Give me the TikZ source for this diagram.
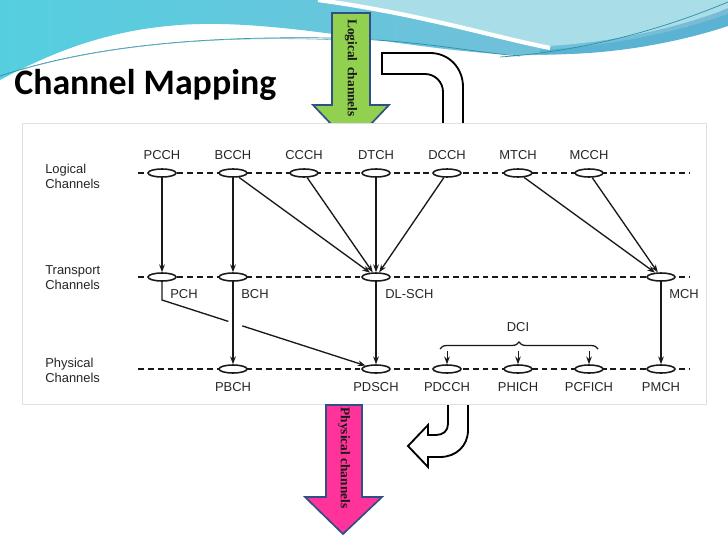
\documentclass[tikz,border=0pt]{standalone}
\usepackage{fontspec}
\setmainfont{Liberation Sans}
\newfontfamily\titlefont{Carlito}
\newfontfamily\arrowfont{Liberation Serif}
\usetikzlibrary{shapes.geometric, positioning, arrows.meta, calc, decorations.pathreplacing}
\definecolor{swblue}{HTML}{7BBAD7}
\definecolor{swcyan}{HTML}{55CFE0}
\definecolor{swlight}{HTML}{A9DEE8}
\definecolor{swdark}{HTML}{5AB3D3}
\definecolor{swline}{HTML}{2C8FA6}
\definecolor{greenfill}{HTML}{92D050}
\definecolor{pinkfill}{HTML}{FF3399}
\definecolor{arrowedge}{HTML}{2F4F86}
\tikzset{
  chan/.style={ellipse, draw=black!90, fill=white, line width=1.1pt, minimum width=0.7cm, minimum height=0.2cm, inner sep=0pt},
  lbl/.style={font=\fontsize{9.2}{10.8}\selectfont, inner sep=0pt, text=black!85},
  rowlbl/.style={lbl, align=left, anchor=west},
  level/.style={dash pattern=on 4.2pt off 2.8pt, line width=0.9pt, black!90},
  arrow/.style={line width=0.95pt,->,>={Stealth[length=5.5pt,width=4pt]}, black!90},
  bigarrow/.style={line width=1.2pt, draw=arrowedge},
  bent/.style={line width=1.3pt, fill=white, draw=black}
}
\begin{document}
\begin{tikzpicture}[x=0.025cm, y=-0.025cm]
        \useasboundingbox [fill=white] (0,0) rectangle (728,546);

        % Hintergrund oben (Welle)
        \shade [left color=swcyan, right color=swblue] (0,0) -- (0,80) .. controls (60,48) and (120,26) .. (200,24) .. controls (300,22) and (420,52) .. (520,55) .. controls (610,56) and (680,40) .. (728,24) -- (728,0) -- cycle;
        \fill [swdark] (540,50) .. controls (620,46) and (690,28) .. (728,14) -- (728,26) .. controls (680,42) and (610,56) .. (540,54) -- cycle;
        \fill [swlight] (325,0) .. controls (420,12) and (490,34) .. (548,46) .. controls (620,42) and (690,24) .. (728,8) -- (728,0) -- cycle;
        \draw [white, line width=3pt] (318,0) .. controls (420,14) and (490,36) .. (550,48);
        \draw [swline, line width=0.5pt] (0,76) .. controls (90,46) and (200,36) .. (330,38) .. controls (420,40) and (470,52) .. (520,56);
        \draw [swline!70, line width=0.4pt] (20,70) .. controls (110,44) and (220,35) .. (340,40);
        \draw [swline, line width=0.5pt] (500,57) .. controls (600,50) and (680,22) .. (728,2);

        % Titel
        \node (title) [anchor=base west, inner sep=0pt, font=\titlefont\bfseries\fontsize{25.5}{30}\selectfont] at (14,94) {Channel Mapping};

        % grosser Pfeil oben und gebogener Pfeil
        \filldraw [bigarrow, fill=greenfill] (332,13) -- (370,13) -- (370,105) -- (389,105) -- (351,145) -- (313,105) -- (332,105) -- cycle;
        \node (logtxt) [rotate=-90, inner sep=0pt, text=black!90, font=\arrowfont\bfseries\fontsize{9.5}{10}\selectfont] at (351,68) {Logical\, channels};
        \draw [bent] (382,53) -- (430,53) .. controls (449,53) and (463,68) .. (463,87) -- (463,140) -- (443,140) -- (443,92) .. controls (443,82) and (435,74) .. (425,74) -- (382,74) -- cycle;

        % Kasten des Diagramms
        \filldraw [fill=white, draw=black!12, line width=0.6pt] (22,123) rectangle (706,404);

        % Ebenen
        \coordinate (lgS) at (138,173);
        \coordinate (lgE) at (690,173);
        \coordinate (trS) at (138,277);
        \coordinate (trE) at (690,277);
        \coordinate (phS) at (138,369);
        \coordinate (phE) at (690,369);
        \draw [level] (lgS) -- (lgE);
        \draw [level] (trS) -- (trE);
        \draw [level] (phS) -- (phE);

        \node (lgL) [rowlbl] at (45,176) {Logical\\Channels};
        \node (trL) [rowlbl] at (45,278) {Transport\\Channels};
        \node (phL) [rowlbl] at (45,370) {Physical\\Channels};

        % Logische Kanaele
        \node (pcch) [chan] at (162,173) {};
        \node (bcch) [chan] at (233,173) {};
        \node (ccch) [chan] at (304,173) {};
        \node (dtch) [chan] at (376,173) {};
        \node (dcch) [chan] at (447,173) {};
        \node (mtch) [chan] at (518,173) {};
        \node (mcch) [chan] at (589,173) {};
        \node (pcchL) [lbl, above=0.22cm of pcch] {PCCH};
        \node (bcchL) [lbl, above=0.22cm of bcch] {BCCH};
        \node (ccchL) [lbl, above=0.22cm of ccch] {CCCH};
        \node (dtchL) [lbl, above=0.22cm of dtch] {DTCH};
        \node (dcchL) [lbl, above=0.22cm of dcch] {DCCH};
        \node (mtchL) [lbl, above=0.22cm of mtch] {MTCH};
        \node (mcchL) [lbl, above=0.22cm of mcch] {MCCH};

        % Transportkanaele
        \node (pch) [chan] at (162,277) {};
        \node (bch) [chan] at (233,277) {};
        \node (dlsch) [chan] at (376,277) {};
        \node (mch) [chan] at (661,277) {};
        \node (pchL) [lbl, anchor=west] at (170,294) {PCH};
        \node (bchL) [lbl, anchor=west] at (241,294) {BCH};
        \node (dlschL) [lbl, anchor=west] at (385,294) {DL-SCH};
        \node (mchL) [lbl, anchor=west] at (669,294) {MCH};

        % Physikalische Kanaele
        \node (pbch) [chan] at (233,369) {};
        \node (pdsch) [chan] at (376,369) {};
        \node (pdcch) [chan] at (447,369) {};
        \node (phich) [chan] at (518,369) {};
        \node (pcfich) [chan] at (589,369) {};
        \node (pmch) [chan] at (661,369) {};
        \node (pbchL) [lbl, below=0.22cm of pbch] {PBCH};
        \node (pdschL) [lbl, below=0.22cm of pdsch] {PDSCH};
        \node (pdcchL) [lbl, below=0.22cm of pdcch] {PDCCH};
        \node (phichL) [lbl, below=0.22cm of phich] {PHICH};
        \node (pcfichL) [lbl, below=0.22cm of pcfich] {PCFICH};
        \node (pmchL) [lbl, below=0.22cm of pmch] {PMCH};

        % Logisch -> Transport
        \draw [arrow] (pcch) -- (pch);
        \draw [arrow] (bcch) -- (bch);
        \draw [arrow] (bcch) -- (dlsch);
        \draw [arrow] (ccch) -- (dlsch);
        \draw [arrow] (dtch) -- (dlsch);
        \draw [arrow] (dcch) -- (dlsch);
        \draw [arrow] (mtch) -- (mch);
        \draw [arrow] (mcch) -- (mch);

        % Transport -> Physikalisch (PCH mit Luecke an BCH)
        \coordinate (pchK) at (162,300);
        \coordinate (gapA) at ($(pchK)!0.31!(pdsch)$);
        \coordinate (gapB) at ($(pchK)!0.375!(pdsch)$);
        \draw [line width=0.95pt, black!90] (pch) -- (pchK) -- (gapA);
        \draw [arrow] (gapB) -- (pdsch);
        \draw [arrow] (bch) -- (pbch);
        \draw [arrow] (dlsch) -- (pdsch);
        \draw [arrow] (mch) -- (pmch);

        % DCI
        \coordinate (dciL) at (440,349);
        \coordinate (dciR) at (598,349);
        \draw [decorate, decoration={brace, amplitude=5pt}, line width=0.9pt, black!90] (dciL) -- (dciR);
        \node (dci) [lbl] at (518,327) {DCI};
        \coordinate (dciA) at (447,351);
        \coordinate (dciB) at (518,351);
        \coordinate (dciC) at (589,351);
        \draw [arrow, line width=0.7pt] (dciA) -- (pdcch);
        \draw [arrow, line width=0.7pt] (dciB) -- (phich);
        \draw [arrow, line width=0.7pt] (dciC) -- (pcfich);

        % grosser Pfeil unten und gebogener Pfeil
        \filldraw [bigarrow, fill=pinkfill] (326,405) -- (362,405) -- (362,497) -- (382,497) -- (343,534) -- (305,497) -- (326,497) -- cycle;
        \node (phytxt) [rotate=-90, inner sep=0pt, text=black!90, font=\arrowfont\bfseries\fontsize{9.5}{10}\selectfont] at (344,458) {Physical channels};
        \draw [bent] (448,405) -- (448,424) .. controls (448,431) and (443,435) .. (436,435) -- (428,435) -- (428,425) -- (408,446) -- (428,467) -- (428,457) -- (440,457) .. controls (456,457) and (468,446) .. (468,430) -- (468,405);

    \end{tikzpicture}
\end{document}
